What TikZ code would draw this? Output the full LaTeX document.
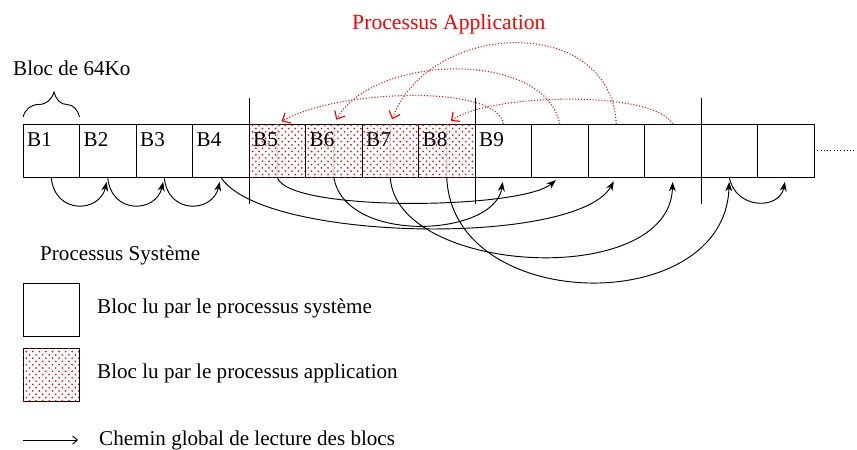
\documentclass[tikz,border=0pt]{standalone}
\usepackage{fontspec}
\setmainfont{Liberation Serif}
\usetikzlibrary{arrows.meta}
\usetikzlibrary{patterns.meta}
\usetikzlibrary{decorations.pathreplacing, decorations.pathmorphing}

\tikzset{
  blk/.style={draw,line width=0.8pt,minimum width=1.695cm,minimum height=1.59cm,inner sep=0pt,outer sep=0pt},
  appblk/.style={blk,pattern={Dots[distance=5.6pt,radius=0.8pt]},pattern color=red,
    postaction={pattern={Dots[distance=5.6pt,radius=0.8pt,xshift=2.8pt,yshift=2.8pt]},pattern color=red}},
  txt/.style={font=\fontsize{18}{20}\selectfont,inner sep=0pt,anchor=base west},
  sep/.style={line width=0.8pt},
  wig/.style={gray!55,line width=0.5pt,decorate,decoration={snake,amplitude=0.6pt,segment length=4pt}},
  apparc/.style={red,line width=0.9pt,dash pattern=on 0.9pt off 1.6pt,-{Straight Barb[length=5.5pt,width=10pt,line width=1pt]},shorten >=0.15cm},
  pth/.style={line width=0.8pt,-{Stealth[length=8pt,width=6pt]},shorten >=0.15cm},
  legarr/.style={line width=0.8pt,-{Straight Barb[length=4pt,width=7pt]}}
}

\begin{document}
\begin{tikzpicture}[x=0.03cm,y=-0.03cm]
\useasboundingbox (0,0) rectangle (857,450);

\foreach \i in {1,2,3,4,9,10,11,12,13,14}
  \node[blk] (b\i) at ({23+56.5*(\i-0.5)},150.5) {};
\foreach \i in {5,...,8}
  \node[appblk] (b\i) at ({23+56.5*(\i-0.5)},150.5) {};
\foreach \i in {5,...,8}
  \draw[wig] (b\i.north) -- (b\i.south);
\foreach \i in {1,...,9}
  \node[txt] (l\i) at ([xshift=0.12cm,yshift=-0.69cm]b\i.north west) {B\i};

\foreach \i in {5,9,13}
  \draw[sep] ([yshift=0.78cm]b\i.north west) -- ([yshift=-0.81cm]b\i.south west);
\coordinate (more) at (857,150.5);
\draw[dotted,line width=0.8pt] (b14.east) -- (more);

\draw[line width=0.8pt,decorate,decoration={brace,amplitude=0.75cm,aspect=0.55}] ([yshift=0.21cm]b1.north west) -- ([yshift=0.21cm]b1.north east);
\node[txt] (size) at (13,76) {Bloc de 64Ko};

\node[txt,text=red,font=\fontsize{18.5}{20}\selectfont] (app) at (352,30) {Processus Application};
\draw[apparc] (b9.north) .. controls +(-5,-40) and +(60,-35) .. (b5.north);
\draw[apparc] (b10.north) .. controls +(-15,-75) and +(40,-70) .. (b6.north);
\draw[apparc] (b11.north) .. controls +(-5,-110) and +(40,-105) .. (b7.north);
\draw[apparc] (b12.north) .. controls +(-20,-35) and +(40,-30) .. (b8.north);

\draw[pth] (b1.south) .. controls +(3,38) and +(-8,36) .. (b2.south);
\draw[pth] (b2.south) .. controls +(3,38) and +(-8,36) .. (b3.south);
\draw[pth] (b3.south) .. controls +(3,38) and +(-8,36) .. (b4.south);
\draw[pth] (b4.south) .. controls +(40,65) and +(-39,70) .. (b11.south);
\draw[pth] (b5.south) .. controls +(8,35) and +(-40,33) .. (b10.south);
\draw[pth] (b6.south) .. controls +(11,68) and +(-8,60) .. (b9.south);
\draw[pth] (b7.south) .. controls +(5,98) and +(-3,113) .. (b12.south);
\draw[pth] (b8.south) .. controls +(5,138) and +(-4,141) .. (b13.south);
\draw[pth] (b13.south) .. controls +(6,33) and +(-6,33) .. (b14.south);

\node[txt] (sys) at (40,260) {Processus Système};
\node[blk] (lg1) at (51.5,309.5) {};
\node[appblk] (lg2) at (51.5,375) {};
\node[txt] (lgt1) at (97,313) {Bloc lu par le processus système};
\node[txt] (lgt2) at (97,378) {Bloc lu par le processus application};
\coordinate (la) at (23,440);
\coordinate (lb) at (78,440);
\draw[legarr] (la) -- (lb);
\node[txt] (lgt3) at (99,445) {Chemin global de lecture des blocs};
\end{tikzpicture}
\end{document}
